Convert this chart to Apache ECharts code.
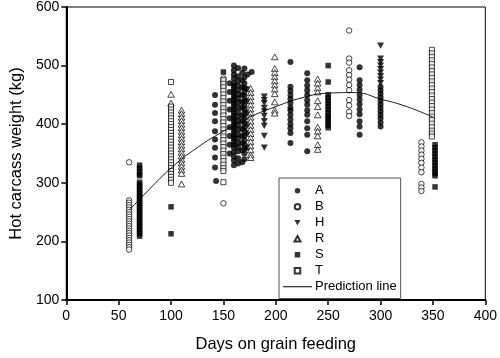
<!DOCTYPE html>
<html>
<head>
<meta charset="utf-8">
<script src="https://cdn.jsdelivr.net/npm/echarts@6/dist/echarts.min.js"></script>
<style>
  html, body { margin: 0; padding: 0; background: #fff; }
  #chart { width: 500px; height: 358px; }
</style>
</head>
<body>
<div id="chart"></div>
<script>
// series values, [days, kg]
var seriesA = [
  [142, 450], [142, 433], [142, 419], [142, 405], [142, 388], [142, 374], [142, 360], [142, 343], [142, 326], [143, 303],
  [156, 470], [156, 455], [156, 440], [156, 425], [156, 410], [156, 395], [156, 380], [156, 365], [156, 350],
  [160, 500], [160, 492], [160, 485], [160, 478], [160, 470], [160, 465], [160, 460], [160, 455], [160, 450], [160, 445],
  [160, 440], [160, 435], [160, 430], [160, 425], [160, 420], [160, 415], [160, 410], [160, 405], [160, 400], [160, 395],
  [160, 390], [160, 385], [160, 380], [160, 375], [160, 370], [160, 365], [160, 360], [160, 352], [160, 345], [160, 338], [160, 330],
  [164, 496], [164, 482], [164, 474], [164, 466], [164, 458], [164, 451], [164, 444], [164, 437], [164, 429], [164, 421],
  [164, 413], [164, 406], [164, 398], [164, 391], [164, 383], [164, 376], [164, 368], [164, 361], [164, 354], [164, 342], [164, 333],
  [168, 488], [168, 475], [168, 463], [168, 450], [168, 438], [168, 428], [168, 415], [168, 405], [168, 392], [168, 380],
  [168, 368], [168, 355], [168, 335],
  [170, 495], [170, 480], [170, 470], [170, 462], [170, 455], [170, 448], [170, 440], [170, 432], [170, 425], [170, 418],
  [170, 410], [170, 402], [170, 395], [170, 388], [170, 380], [170, 372], [170, 365], [170, 358], [170, 350], [170, 340],
  [173, 485], [173, 460], [173, 440], [173, 420], [173, 400], [173, 385], [173, 360],
  [177, 489],
  [214, 506], [214, 464], [214, 457], [214, 450], [214, 443], [214, 436], [214, 428], [214, 424], [214, 416], [214, 408],
  [214, 400], [214, 393], [214, 385], [214, 368],
  [230, 487], [230, 475], [230, 466], [230, 458], [230, 450], [230, 441], [230, 433], [230, 424], [230, 416], [230, 405],
  [230, 393], [230, 382], [230, 354],
  [280, 497], [280, 475], [280, 467], [280, 459], [280, 450], [280, 442], [280, 434], [280, 425], [280, 417], [280, 405],
  [280, 396], [280, 382],
  [300, 464], [300, 458], [300, 452], [300, 446], [300, 440], [300, 434], [300, 428], [300, 422], [300, 416], [300, 410],
  [300, 403], [300, 396]
];
var seriesB = [
  [60, 335], [60, 270], [60, 266], [60, 262], [60, 258], [60, 254], [60, 250], [60, 246], [60, 242], [60, 238], [60, 234],
  [60, 230], [60, 226], [60, 222], [60, 218], [60, 214], [60, 210], [60, 206], [60, 202], [60, 198], [60, 194], [60, 190], [60, 186],
  [150, 478], [150, 472], [150, 465], [150, 265],
  [270, 560], [270, 512], [270, 505], [270, 492], [270, 484], [270, 476], [270, 467], [270, 458], [270, 441], [270, 432],
  [270, 421], [270, 414],
  [339, 369], [339, 362], [339, 355], [339, 348], [339, 341], [339, 334], [339, 326], [339, 318], [339, 298], [339, 292], [339, 286]
];
var seriesH = [
  [189, 447], [189, 441], [189, 436], [189, 428], [189, 422], [189, 414], [189, 405], [189, 397], [189, 380], [189, 360],
  [300, 534], [300, 512], [300, 506], [300, 500], [300, 494], [300, 488], [300, 482], [300, 476], [300, 470]
];
var seriesR = [
  [100, 451], [100, 436],
  [110, 424], [110, 418], [110, 412], [110, 406], [110, 400], [110, 394], [110, 388], [110, 382], [110, 376], [110, 370],
  [110, 364], [110, 358], [110, 352], [110, 346], [110, 340], [110, 334], [110, 328], [110, 322], [110, 316], [110, 298],
  [176, 461], [176, 454], [176, 447], [176, 440], [176, 433], [176, 426], [176, 419], [176, 412], [176, 405], [176, 398],
  [176, 391], [176, 384], [176, 377], [176, 370], [176, 363], [176, 356], [176, 348], [176, 343],
  [199, 515], [199, 495], [199, 488], [199, 481], [199, 474], [199, 467], [199, 460], [199, 452], [199, 438], [199, 424], [199, 419],
  [240, 477], [240, 470], [240, 462], [240, 455], [240, 440], [240, 430], [240, 416], [240, 395], [240, 388], [240, 380],
  [240, 365], [240, 357]
];
var seriesS = [
  [70, 330], [70, 325], [70, 320], [70, 315], [70, 312], [70, 301], [70, 297], [70, 293], [70, 289], [70, 285], [70, 281],
  [70, 277], [70, 273], [70, 269], [70, 265], [70, 261], [70, 257], [70, 253], [70, 249], [70, 245], [70, 241], [70, 237],
  [70, 233], [70, 229], [70, 225], [70, 221], [70, 217], [70, 213], [70, 209],
  [100, 259], [100, 213],
  [150, 489],
  [250, 500], [250, 472], [250, 450], [250, 445], [250, 440], [250, 435], [250, 430], [250, 425], [250, 420], [250, 415],
  [250, 411], [250, 407], [250, 402], [250, 398], [250, 394],
  [352, 365], [352, 360], [352, 355], [352, 350], [352, 345], [352, 340], [352, 335], [352, 330], [352, 325], [352, 320],
  [352, 316], [352, 312], [352, 293]
];
var seriesT = [
  [100, 472], [100, 430], [100, 425], [100, 420], [100, 415], [100, 410], [100, 405], [100, 400], [100, 395], [100, 390],
  [100, 385], [100, 380], [100, 375], [100, 370], [100, 365], [100, 360], [100, 355], [100, 350], [100, 345], [100, 340],
  [100, 335], [100, 330], [100, 325], [100, 320], [100, 315], [100, 310], [100, 305], [100, 300],
  [150, 475], [150, 469], [150, 463], [150, 457], [150, 451], [150, 445], [150, 439], [150, 433], [150, 427], [150, 421],
  [150, 415], [150, 409], [150, 403], [150, 397], [150, 391], [150, 385], [150, 379], [150, 373], [150, 367], [150, 361],
  [150, 355], [150, 349], [150, 343], [150, 337], [150, 331], [150, 325], [150, 320], [150, 301],
  [349, 527], [349, 521], [349, 515], [349, 509], [349, 503], [349, 497], [349, 491], [349, 485], [349, 479], [349, 473],
  [349, 467], [349, 461], [349, 455], [349, 449], [349, 443], [349, 437], [349, 431], [349, 425], [349, 419], [349, 413],
  [349, 407], [349, 401], [349, 395], [349, 389], [349, 384], [349, 379]
];
var predDays = [61, 75, 100, 125, 150, 175, 200, 225, 250, 275, 300, 325, 350];
var predKg = [255, 281, 325, 360, 388, 412, 430, 445, 453, 454, 443, 430, 412];

var xTicks = [0, 50, 100, 150, 200, 250, 300, 350, 400];
var yTicks = [100, 200, 300, 400, 500, 600];

var FONT = '"Liberation Sans", Arial, Helvetica, sans-serif';
var downTri = 'path://M0,0 L10,0 L5,9 Z';
var upTri = 'path://M5,0 L10,9 L0,9 Z';
var square = 'path://M0,0 L10,0 L10,10 L0,10 Z';
var hLine = 'path://M0,0 L58,0 L58,2 L0,2 Z';

var chart = echarts.init(document.getElementById('chart'));

function scatter(name, data, symbol, size, filled) {
  return {
    name: name,
    type: 'scatter',
    data: data,
    symbol: symbol,
    symbolSize: size,
    symbolKeepAspect: true,
    clip: false,
    itemStyle: filled
      ? { color: '#000' }
      : { color: '#fff', borderColor: '#000', borderWidth: 0.9 }
  };
}

var predData = predDays.map(function (d, i) { return [d, predKg[i]]; });

chart.setOption({
  animation: false,
  textStyle: { fontFamily: FONT },
  grid: {
    left: 63, right: 14, top: 6, bottom: 55,
    show: true, borderColor: '#000', borderWidth: 1
  },
  xAxis: {
    type: 'value',
    min: xTicks[0], max: xTicks[xTicks.length - 1], interval: 50,
    name: 'Days on grain feeding',
    nameLocation: 'middle',
    nameGap: 36,
    nameTextStyle: { color: '#000', fontSize: 16.5, fontFamily: FONT },
    axisLine: { lineStyle: { color: '#000', width: 2 } },
    axisTick: { show: true, length: 5, lineStyle: { color: '#000', width: 1.5 } },
    axisLabel: { color: '#000', fontSize: 14, margin: 9, fontFamily: FONT },
    splitLine: { show: false }
  },
  yAxis: {
    type: 'value',
    min: yTicks[0], max: yTicks[yTicks.length - 1], interval: 100,
    name: 'Hot carcass weight (kg)',
    nameLocation: 'middle',
    nameRotate: 90,
    nameGap: 40,
    nameTextStyle: { color: '#000', fontSize: 16.5, fontFamily: FONT },
    axisLine: { lineStyle: { color: '#000', width: 2 } },
    axisTick: { show: true, length: 5, lineStyle: { color: '#000', width: 1.5 } },
    axisLabel: { color: '#000', fontSize: 14, margin: 7, fontFamily: FONT },
    splitLine: { show: false }
  },
  legend: {
    orient: 'vertical',
    left: 279, top: 178,
    padding: [6, 4, 5, 4],
    itemWidth: 29, itemHeight: 5.5, itemGap: 2.5,
    symbolKeepAspect: true,
    borderColor: '#555', borderWidth: 1,
    backgroundColor: '#fff',
    textStyle: { color: '#000', fontSize: 13, lineHeight: 13.5, fontFamily: FONT, padding: [0, 0, 0, -2] },
    data: [
      { name: 'A', icon: 'circle' },
      { name: 'B', icon: 'circle' },
      { name: 'H', icon: downTri },
      { name: 'R', icon: upTri },
      { name: 'S', icon: square },
      { name: 'T', icon: square },
      { name: 'Prediction line', icon: hLine }
    ]
  },
  series: [
    scatter('A', seriesA, 'circle', 6, true),
    scatter('B', seriesB, 'circle', 5.5, false),
    scatter('H', seriesH, downTri, 7, true),
    scatter('R', seriesR, upTri, 6.5, false),
    scatter('S', seriesS, square, 5.5, true),
    scatter('T', seriesT, square, 5, false),
    {
      name: 'Prediction line',
      type: 'line',
      data: predData,
      smooth: true,
      symbol: 'none',
      lineStyle: { color: '#000', width: 0.9 },
      itemStyle: { color: '#000' },
      z: 5
    }
  ]
});
</script>
</body>
</html>
